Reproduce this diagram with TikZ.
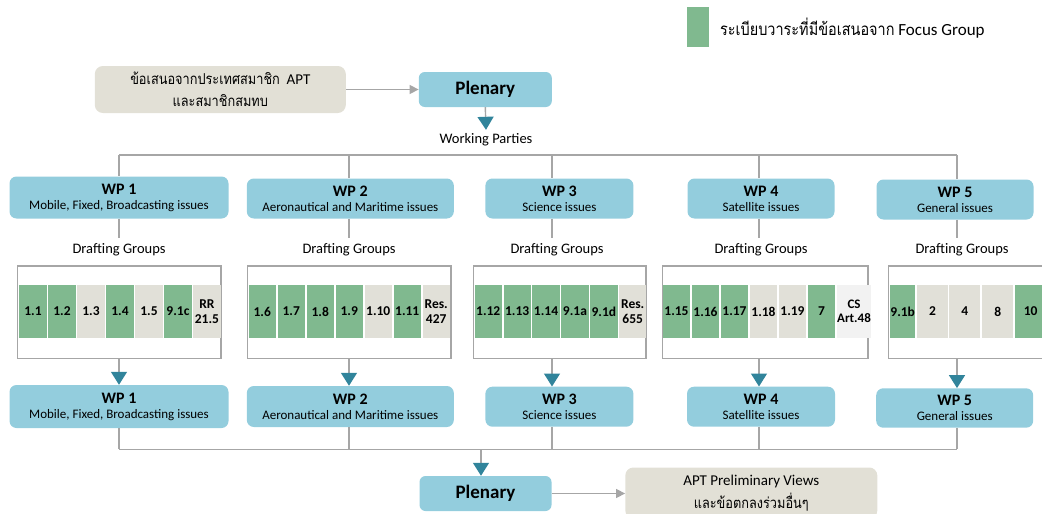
\documentclass[tikz,border=0pt]{standalone}
\usepackage{fontspec}
\setmainfont{Carlito}
\newfontfamily\thaifont[Script=Thai,FakeStretch=0.85]{Loma}
\usetikzlibrary{arrows.meta}
\definecolor{lblue}{HTML}{93CDDD}
\definecolor{cgreen}{HTML}{80B98F}
\definecolor{cgray}{HTML}{E1E0D8}
\definecolor{bgray}{HTML}{E2E0D6}
\definecolor{lgray}{HTML}{A6A6A6}
\definecolor{tealc}{HTML}{31849B}
\definecolor{cwhite}{HTML}{F2F2F2}
\newcommand\wpcontent[2]{{\bfseries\fontsize{16}{16}\selectfont #1}\\[3pt]{\fontsize{13}{15}\selectfont #2}}
\begin{document}
\begin{tikzpicture}[x=1pt,y=-1pt,
  line/.style={draw=lgray,line width=1.4pt},
  tarrow/.style={line,-{Triangle[width=16pt,length=13pt,color=tealc]}},
  garrow/.style={line,-{Triangle[width=9pt,length=9pt,color=lgray]}},
  wpbox/.style={fill=lblue,rounded corners=7pt,align=center,inner sep=0pt},
  pbox/.style={fill=lblue,rounded corners=6pt,inner sep=0pt,font=\fontsize{19}{21}\selectfont\bfseries},
  tbox/.style={fill=bgray,rounded corners=8pt,align=center,inner sep=0pt,font=\fontsize{15}{22.5}\selectfont},
  bracketbox/.style={draw=lgray,line width=1.3pt,inner sep=0pt},
  cell/.style={anchor=west,inner sep=0pt,minimum height=53pt,align=center,font=\fontsize{13.5}{14.5}\selectfont\bfseries},
  lbl/.style={inner sep=0pt,minimum height=24pt,font=\fontsize{14.5}{17}\selectfont},
]
\path[use as bounding box] (0,0) rectangle (1042,514);
\clip (0,0) rectangle (1042,514);

% legend
\node[fill=cgreen,minimum width=22pt,minimum height=40pt,inner sep=0pt] (lg) at (698,27) {};
\node[anchor=west,inner sep=0pt,font=\fontsize{17}{20}\selectfont] (lgt) at (720,28) {{\thaifont ระเบียบวาระที่มีข้อเสนอจาก} Focus Group};

% top part
\node[tbox,minimum width=251pt,minimum height=47pt] (src) at (220.3,89.5) {{\thaifont ข้อเสนอจากประเทศสมาชิก}\ \ APT\\{\thaifont และสมาชิกสมทบ}};
\node[pbox,minimum width=133pt,minimum height=35pt] (plen1) at (485.3,89.5) {Plenary};
\draw[garrow] (src.east) -- (plen1.west);
\node[lbl,minimum height=20pt] (wpl) at (486,140) {Working Parties};
\draw[tarrow] (plen1.south) -- (wpl.north);

% x positions of stubs
\coordinate (t1) at (119,155);
\coordinate (t2) at (349,155);
\coordinate (t3) at (552,155);
\coordinate (t4) at (759,155);
\coordinate (t5) at (957,155);
\draw[line] (t1) -- (t5);

% WP boxes top
\node[wpbox,minimum width=219pt,minimum height=42pt] (wp1) at (119,197.5) {\wpcontent{WP 1}{Mobile, Fixed, Broadcasting issues}};
\node[wpbox,minimum width=207pt,minimum height=40pt] (wp2) at (350.3,198.5) {\wpcontent{WP 2}{Aeronautical and Maritime issues}};
\node[wpbox,minimum width=148pt,minimum height=40pt] (wp3) at (559.4,198.5) {\wpcontent{WP 3}{Science issues}};
\node[wpbox,minimum width=147pt,minimum height=40pt] (wp4) at (761,198.5) {\wpcontent{WP 4}{Satellite issues}};
\node[wpbox,minimum width=157pt,minimum height=40pt] (wp5) at (955,199.5) {\wpcontent{WP 5}{General issues}};

\foreach \i in {1,...,5} \draw[line] (t\i) -- (t\i |- wp\i.north);

% drafting group labels
\node[lbl] (dg1) at (119,250) {Drafting Groups};
\node[lbl] (dg2) at (349,250) {Drafting Groups};
\node[lbl] (dg3) at (557,250) {Drafting Groups};
\node[lbl] (dg4) at (761,250) {Drafting Groups};
\node[lbl] (dg5) at (962,250) {Drafting Groups};
\foreach \i in {1,...,5} \draw[line] (wp\i.south -| t\i) -- (dg\i.north -| t\i);

% brackets
\node[bracketbox,minimum width=203.3pt,minimum height=92.3pt] (br1) at (119.35,312.2) {};
\node[bracketbox,minimum width=203.3pt,minimum height=92.3pt] (br2) at (349.35,312.2) {};
\node[bracketbox,minimum width=172.4pt,minimum height=92.3pt] (br3) at (559.8,312.2) {};
\node[bracketbox,minimum width=205.4pt,minimum height=92.3pt] (br4) at (765.3,312.2) {};
\node[bracketbox,minimum width=171.4pt,minimum height=92.3pt] (br5) at (974,312.2) {};

% cells
\foreach \t/\c [count=\i] in {1.1/cgreen,1.2/cgreen,1.3/cgray,1.4/cgreen,1.5/cgray,9.1c/cgreen,{RR\\21.5}/cgray}
  \node[cell,fill=\c,minimum width=27.5pt] (ca\i) at ({19+29*(\i-1)},311.5) {\t};
\foreach \t/\c [count=\i] in {1.6/cgreen,1.7/cgreen,1.8/cgreen,1.9/cgreen,1.10/cgray,1.11/cgreen,{Res.\\427}/cgray}
  \node[cell,fill=\c,minimum width=27.5pt] (cb\i) at ({248.3+29*(\i-1)},311.5) {\t};
\foreach \t/\c [count=\i] in {1.12/cgreen,1.13/cgreen,1.14/cgreen,9.1a/cgreen,9.1d/cgreen,{Res.\\655}/cgray}
  \node[cell,fill=\c,minimum width=27.3pt] (cc\i) at ({474.4+28.9*(\i-1)},311.5) {\t};
\foreach \t/\c [count=\i] in {1.15/cgreen,1.16/cgreen,1.17/cgreen,1.18/cgray,1.19/cgray,7/cgreen}
  \node[cell,fill=\c,minimum width=27.4pt] (cd\i) at ({662.6+29*(\i-1)},311.5) {\t};
\node[cell,fill=cwhite,minimum width=32.5pt,font=\fontsize{13}{14.5}\selectfont\bfseries] (cd7) at (837,311.5) {CS\\Art.48};
\foreach \x/\w/\t/\c [count=\i] in {890/25/9.1b/cgreen,917/30.5/2/cgray,949/31/4/cgray,982/31/8/cgray,1015/31/10/cgreen}
  \node[cell,fill=\c,minimum width=\w pt] (ce\i) at (\x,311.5) {\t};

% WP boxes bottom
\node[wpbox,minimum width=219pt,minimum height=43pt] (wpb1) at (119,406.5) {\wpcontent{WP 1}{Mobile, Fixed, Broadcasting issues}};
\node[wpbox,minimum width=207pt,minimum height=41pt] (wpb2) at (350.3,406.5) {\wpcontent{WP 2}{Aeronautical and Maritime issues}};
\node[wpbox,minimum width=148pt,minimum height=40pt] (wpb3) at (559.4,406.7) {\wpcontent{WP 3}{Science issues}};
\node[wpbox,minimum width=148pt,minimum height=40pt] (wpb4) at (761,406.7) {\wpcontent{WP 4}{Satellite issues}};
\node[wpbox,minimum width=157pt,minimum height=39.4pt] (wpb5) at (954.7,408) {\wpcontent{WP 5}{General issues}};

\foreach \i in {1,...,5} \draw[tarrow] (br\i.south -| t\i) -- (wpb\i.north -| t\i);

% bottom bus
\coordinate (b1) at (119,449.3);
\coordinate (b5) at (957,449.3);
\coordinate (bp) at (481,449.3);
\foreach \i in {1,...,5} \draw[line] (wpb\i.south -| t\i) -- (b1 -| t\i);
\draw[line] (b1) -- (b5);

\node[pbox,minimum width=132pt,minimum height=35pt] (plen2) at (485.5,493.5) {Plenary};
\draw[tarrow] (bp) -- (bp |- plen2.north);
\node[tbox,minimum width=252pt,minimum height=51pt] (out) at (751.3,493) {APT Preliminary Views\\{\thaifont และข้อตกลงร่วมอื่นๆ}};
\draw[garrow] (plen2.east) -- (plen2.east -| out.west);
\end{tikzpicture}
\end{document}
